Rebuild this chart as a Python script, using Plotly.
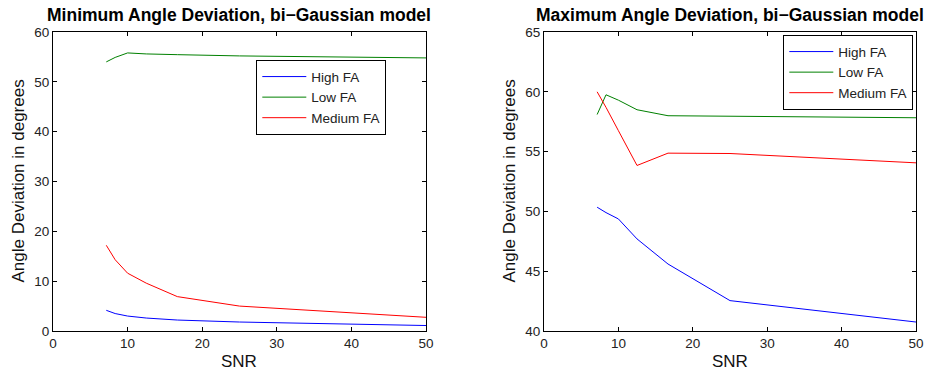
import plotly.graph_objects as go

snr = [50/7, 50/6, 10, 12.5, 50/3, 25, 50]

min_high = [4.15, 3.5, 3.0, 2.6, 2.2, 1.8, 1.1]
min_low = [54.0, 54.9, 55.8, 55.6, 55.45, 55.2, 54.8]
min_med = [17.2, 14.3, 11.6, 9.6, 6.9, 5.0, 2.75]

max_high = [50.35, 49.9, 49.37, 47.7, 45.6, 42.54, 40.75]
max_low = [58.1, 59.75, 59.3, 58.5, 58.0, 57.95, 57.83]
max_med = [60.0, 58.7, 56.75, 53.84, 54.87, 54.84, 54.06]

names = ["High FA", "Low FA", "Medium FA"]
colors = ["#0000ff", "#008000", "#ff0000"]

titles = ["Minimum Angle Deviation, bi\u2212Gaussian model",
          "Maximum Angle Deviation, bi\u2212Gaussian model"]
xticks = [0, 10, 20, 30, 40, 50]
yticks_min = [0, 10, 20, 30, 40, 50, 60]
yticks_max = [40, 45, 50, 55, 60, 65]

W, H = 930, 376
FONT = "Liberation Sans, Arial, Helvetica, sans-serif"

fig = go.Figure()
for vals, name, col in zip([min_high, min_low, min_med], names, colors):
    fig.add_trace(go.Scatter(x=snr, y=vals, mode="lines", name=name,
                             line=dict(color=col, width=1), xaxis="x", yaxis="y",
                             legend="legend"))
for vals, name, col in zip([max_high, max_low, max_med], names, colors):
    fig.add_trace(go.Scatter(x=snr, y=vals, mode="lines", name=name,
                             line=dict(color=col, width=1), xaxis="x2", yaxis="y2",
                             legend="legend2"))

top, bottom = 32, 331
yd = [1 - bottom / H, 1 - top / H]
L1, R1 = 53, 426
L2, R2 = 544, 916

axcommon = dict(showgrid=False, zeroline=False, showline=True, linecolor="black",
                linewidth=1, mirror="ticks", ticks="inside", ticklen=4,
                tickcolor="black", tickfont=dict(size=13.5, color="#222"),
                automargin=False)

legcommon = dict(xanchor="left", yanchor="top", bgcolor="white",
                 bordercolor="black", borderwidth=1.3,
                 font=dict(size=13.5, color="#222"), tracegroupgap=0,
                 itemwidth=44)

fig.update_layout(
    width=W, height=H, margin=dict(l=0, r=0, t=0, b=0, autoexpand=False),
    paper_bgcolor="white", plot_bgcolor="white",
    font=dict(family=FONT, color="black"),
    xaxis=dict(domain=[L1 / W, R1 / W], range=[0, 50], tickvals=xticks, anchor="y", **axcommon),
    yaxis=dict(domain=yd, range=[0, 60], tickvals=yticks_min, anchor="x", **axcommon),
    xaxis2=dict(domain=[L2 / W, R2 / W], range=[0, 50], tickvals=xticks, anchor="y2", **axcommon),
    yaxis2=dict(domain=yd, range=[40, 65], tickvals=yticks_max, anchor="x2", **axcommon),
    legend=dict(x=256 / W, y=1 - 60 / H, **legcommon),
    legend2=dict(x=783 / W, y=1 - 35 / H, **legcommon),
    showlegend=True,
)

ann = []
for t, (l, r) in zip(titles, [(L1, R1), (L2, R2)]):
    ann.append(dict(text="<b>" + t + "</b>", x=(l + r) / 2 / W, y=1 - 15 / H,
                    xref="paper", yref="paper", showarrow=False,
                    xanchor="center", yanchor="middle",
                    font=dict(size=17.5, color="black")))
    ann.append(dict(text="SNR", x=(l + r) / 2 / W, y=1 - 361 / H,
                    xref="paper", yref="paper", showarrow=False,
                    xanchor="center", yanchor="middle",
                    font=dict(size=17, color="#111")))
    ann.append(dict(text="Angle Deviation in degrees", x=(l - 35) / W,
                    y=(1 - (top + bottom) / 2 / H), textangle=-90,
                    xref="paper", yref="paper", showarrow=False,
                    xanchor="center", yanchor="middle",
                    font=dict(size=17, color="#111")))
fig.update_layout(annotations=ann)

fig.write_html("out.html")
